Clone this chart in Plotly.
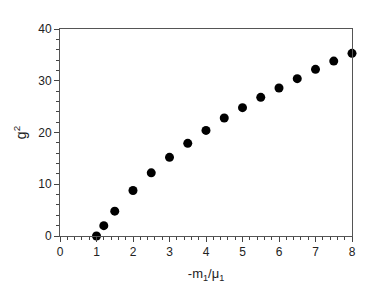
import plotly.graph_objects as go

x_vals = [1, 1.2, 1.5, 2, 2.5, 3, 3.5, 4, 4.5, 5, 5.5, 6, 6.5, 7, 7.5, 8]
g2_vals = [0.0, 2.0, 4.8, 8.8, 12.2, 15.2, 17.9, 20.4, 22.8, 24.8, 26.8, 28.6, 30.4, 32.2, 33.8, 35.3]

FONT = "Liberation Sans, Arial, sans-serif"

fig = go.Figure()
fig.add_trace(go.Scatter(
    x=x_vals, y=g2_vals, mode="markers",
    marker=dict(color="black", size=9),
    cliponaxis=False, showlegend=False,
))

axis_common = dict(
    showgrid=False, zeroline=False, showline=True, linecolor="#555", linewidth=1,
    mirror=True, ticks="outside", ticklen=5, tickcolor="#444",
    tickfont=dict(family=FONT, size=12, color="#222"),
)

fig.update_xaxes(
    range=[0, 8], dtick=1, tick0=0,
    minor=dict(dtick=0.2, ticks="outside", ticklen=3, tickcolor="#444"),
    title=dict(text="-m<sub>1</sub>/μ<sub>1</sub>",
               font=dict(family=FONT, size=13, color="#222"),
               standoff=10),
    **axis_common,
)
fig.update_yaxes(
    range=[0, 40], dtick=10, tick0=0,
    minor=dict(dtick=2, ticks="outside", ticklen=3, tickcolor="#444"),
    title=dict(text="g<sup>2</sup>",
               font=dict(family=FONT, size=14, color="#222"),
               standoff=8),
    **axis_common,
)

# page body has ~8px default margin, so the figure is shrunk to fit the window
fig.update_layout(
    width=360, height=289,
    margin=dict(l=49, r=16, t=21, b=61),
    plot_bgcolor="white", paper_bgcolor="white",
)

fig.write_html("out.html")
